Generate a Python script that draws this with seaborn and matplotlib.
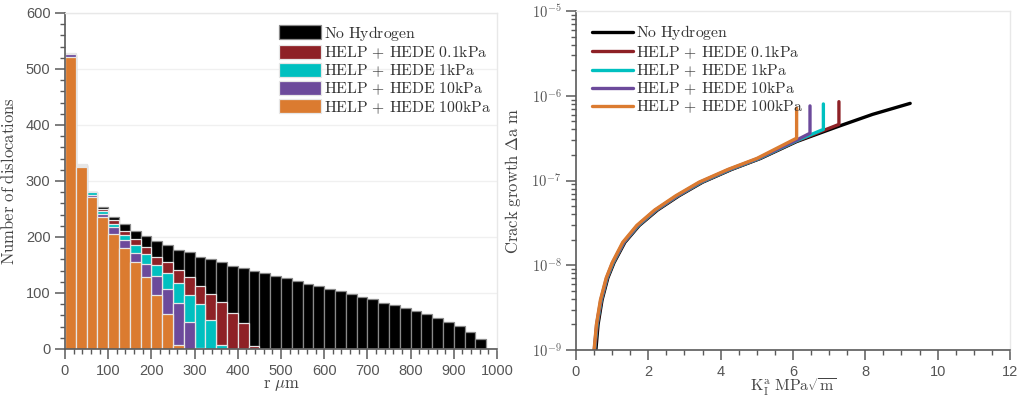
import numpy as np
import pandas as pd
import matplotlib
matplotlib.use("Agg")
import matplotlib.pyplot as plt
import seaborn as sns
from matplotlib.ticker import MultipleLocator, FuncFormatter, LogLocator, NullFormatter

# ---------------- data ----------------
series_labels = ["No Hydrogen", "HELP + HEDE 0.1kPa", "HELP + HEDE 1kPa",
                 "HELP + HEDE 10kPa", "HELP + HEDE 100kPa"]
series_colors = ["#000000", "#8E2126", "#00C0C0", "#6C4A9B", "#DB7B30"]

bin_edges = list(range(0, 1001, 25))  # r (um)

counts_none = [525, 329, 281, 254, 236, 223, 210, 202, 193, 185, 177, 173, 165, 161, 155,
               149, 145, 139, 135, 131, 127, 121, 116, 112, 107, 103, 99, 93, 89, 83,
               79, 73, 67, 63, 55, 48, 41, 31, 17, 0]
counts_01kpa = [525, 330, 280, 250, 230, 211, 196, 182, 165, 155, 141, 128, 113, 99, 84,
                65, 46, 6]
counts_1kpa = [528, 328, 280, 247, 224, 203, 185, 170, 150, 135, 117, 97, 80, 51, 8]
counts_10kpa = [526, 327, 275, 241, 217, 195, 172, 152, 131, 108, 83, 49, 2]
counts_100kpa = [521, 325, 271, 235, 205, 180, 156, 128, 97, 62, 7]

# crack growth curves (K in MPa sqrt(m), da in m)
K_none = [0.55, 0.61, 0.72, 0.88, 1.05, 1.35, 1.75, 2.25, 2.85, 3.5, 4.3, 5.1, 6.1, 7.2, 8.2, 9.24]
da_none = [1.0e-9, 2.0e-9, 3.89e-9, 7.08e-9, 1.07e-8, 1.86e-8, 2.95e-8, 4.47e-8, 6.61e-8,
           9.55e-8, 1.35e-7, 1.82e-7, 2.88e-7, 4.27e-7, 6.03e-7, 8.13e-7]
K_01kpa = [0.52, 0.59, 0.705, 0.865, 1.035, 1.335, 1.735, 2.23, 2.83, 3.48, 4.28, 5.08, 6.1, 7.27, 7.27]
da_01kpa = [1.0e-9, 2.0e-9, 3.89e-9, 7.08e-9, 1.07e-8, 1.86e-8, 2.95e-8, 4.47e-8, 6.61e-8,
            9.55e-8, 1.35e-7, 1.82e-7, 2.92e-7, 4.59e-7, 8.51e-7]
K_1kpa = [0.51, 0.58, 0.695, 0.855, 1.025, 1.32, 1.72, 2.21, 2.81, 3.46, 4.26, 5.06, 6.1, 6.84, 6.84]
da_1kpa = [1.0e-9, 2.0e-9, 3.89e-9, 7.08e-9, 1.07e-8, 1.86e-8, 2.95e-8, 4.47e-8, 6.61e-8,
           9.55e-8, 1.35e-7, 1.82e-7, 2.95e-7, 4.01e-7, 8.0e-7]
K_10kpa = [0.505, 0.57, 0.685, 0.845, 1.01, 1.31, 1.70, 2.19, 2.79, 3.43, 4.23, 5.03, 6.1, 6.47, 6.47]
da_10kpa = [1.0e-9, 2.0e-9, 3.89e-9, 7.08e-9, 1.07e-8, 1.86e-8, 2.95e-8, 4.47e-8, 6.61e-8,
            9.55e-8, 1.35e-7, 1.82e-7, 3.0e-7, 3.61e-7, 7.59e-7]
K_100kpa = [0.50, 0.565, 0.675, 0.835, 1.0, 1.29, 1.68, 2.17, 2.76, 3.4, 4.2, 5.0, 6.1, 6.1]
da_100kpa = [1.0e-9, 2.0e-9, 3.89e-9, 7.08e-9, 1.07e-8, 1.86e-8, 2.95e-8, 4.47e-8, 6.61e-8,
             9.55e-8, 1.35e-7, 1.82e-7, 3.16e-7, 7.14e-7]

# ---------------- style ----------------
sns.set_theme(style="white")
plt.rcParams["font.family"] = ["Liberation Sans", "DejaVu Sans"]
plt.rcParams["mathtext.fontset"] = "cm"

tick_col = "#555555"
spine_dark = "#5a5a5a"
spine_light = "#e8e8e8"

fig = plt.figure(figsize=(10.2, 4.01), dpi=100)
ax1 = fig.add_axes([65 / 1020, 1 - 349 / 401, 432 / 1020, 336 / 401])
ax2 = fig.add_axes([576 / 1020, 1 - 350 / 401, 434 / 1020, 339 / 401])


def style_axes(ax):
    for s in ["left", "bottom"]:
        ax.spines[s].set_color(spine_dark)
        ax.spines[s].set_linewidth(1.2)
    for s in ["top", "right"]:
        ax.spines[s].set_color(spine_light)
        ax.spines[s].set_linewidth(1.0)
    ax.tick_params(which="major", direction="out", length=7, width=1.1, color=spine_dark,
                   labelsize=10.5, labelcolor=tick_col, left=True, bottom=True)
    ax.tick_params(which="minor", direction="out", length=3.5, width=1.0, color=spine_dark,
                   left=True, bottom=True)


def tex_label(lab):
    return r"$\mathrm{" + lab.replace(" + ", r"\,+\,").replace(" ", r"\ ") + "}$"


# ---------------- left: histogram ----------------
centers = [(bin_edges[i] + bin_edges[i + 1]) / 2 for i in range(len(bin_edges) - 1)]
all_counts = [counts_none, counts_01kpa, counts_1kpa, counts_10kpa, counts_100kpa]
for lab, col, cnt in zip(series_labels, series_colors, all_counts):
    df = pd.DataFrame({"r": centers[:len(cnt)], "n": cnt})
    ec = "#8a8a8a" if col == "#000000" else "#e6e6e6"
    sns.histplot(data=df, x="r", weights="n", bins=bin_edges, ax=ax1, color=col,
                 alpha=1.0, edgecolor=ec, linewidth=0.9, label=lab)

ax1.set_xlim(0, 1000)
ax1.set_ylim(0, 600)
ax1.xaxis.set_major_locator(MultipleLocator(100))
ax1.xaxis.set_minor_locator(MultipleLocator(20))
ax1.yaxis.set_major_locator(MultipleLocator(100))
ax1.yaxis.set_minor_locator(MultipleLocator(20))
ax1.grid(axis="y", which="major", color="#f0f0f0", linewidth=1.0)
ax1.set_axisbelow(True)
style_axes(ax1)
ax1.set_xlabel(r"$\mathrm{r}\ \mu\mathrm{m}$", fontsize=12, color="#444444", labelpad=0)
ax1.set_ylabel(r"$\mathrm{Number\ of\ dislocations}$", fontsize=12, color="#444444", labelpad=6)
leg1 = ax1.legend(loc="upper right", frameon=False, fontsize=11.3, handlelength=2.7,
                  handleheight=1.0, handletextpad=0.2, labelspacing=0.1,
                  bbox_to_anchor=(1.02, 1.01))
for t, lab in zip(leg1.get_texts(), series_labels):
    t.set_text(tex_label(lab))
    t.set_color("#333333")

# ---------------- right: crack growth ----------------
curves = [(K_none, da_none), (K_01kpa, da_01kpa), (K_1kpa, da_1kpa),
          (K_10kpa, da_10kpa), (K_100kpa, da_100kpa)]
for lab, col, (kk, dd) in zip(series_labels, series_colors, curves):
    df = pd.DataFrame({"K": kk, "da": dd})
    sns.lineplot(data=df, x="K", y="da", ax=ax2, color=col, linewidth=2.4,
                 sort=False, estimator=None, label=lab)

ax2.set_yscale("log")
ax2.set_xlim(0, 12)
ax2.set_ylim(1e-9, 1e-5)
ax2.xaxis.set_major_locator(MultipleLocator(2))
ax2.xaxis.set_minor_locator(MultipleLocator(0.5))
ax2.yaxis.set_major_locator(LogLocator(base=10, numticks=10))
ax2.yaxis.set_minor_locator(LogLocator(base=10, subs=np.arange(2, 10), numticks=20))
ax2.yaxis.set_minor_formatter(NullFormatter())
ax2.yaxis.set_major_formatter(FuncFormatter(
    lambda v, _: r"$\mathsf{10^{%d}}$" % int(round(np.log10(v)))))
style_axes(ax2)
ax2.set_xlabel(r"$\mathrm{K_I^a\ MPa}\sqrt{\mathrm{m}}$", fontsize=11.5, color="#444444", labelpad=-1)
ax2.set_ylabel(r"$\mathrm{Crack\ growth}\ \Delta\mathrm{a\ m}$", fontsize=12, color="#444444", labelpad=6)
leg2 = ax2.legend(loc="upper left", frameon=False, fontsize=11.3, handlelength=2.6,
                  handletextpad=0.2, labelspacing=0.1, bbox_to_anchor=(0.005, 1.005))
for t, lab in zip(leg2.get_texts(), series_labels):
    t.set_text(tex_label(lab))
    t.set_color("#333333")

fig.savefig("out.png", dpi=100)
